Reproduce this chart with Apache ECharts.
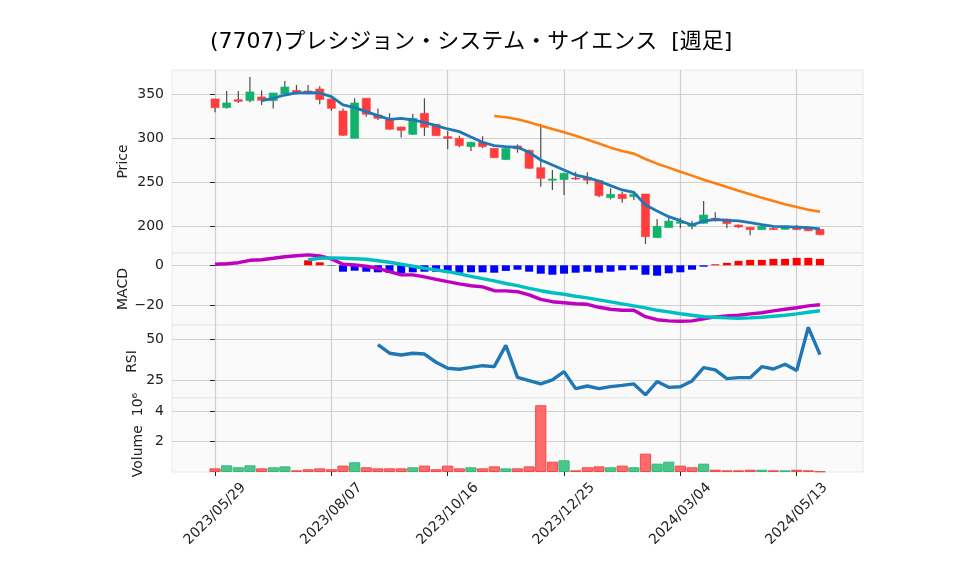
<!DOCTYPE html>
<html>
<head>
<meta charset="utf-8">
<script src="https://cdn.jsdelivr.net/npm/echarts@6/dist/echarts.min.js"></script>
<style>
  html, body { margin: 0; padding: 0; background: #ffffff; }
  #chart { width: 958px; height: 575px; }
</style>
</head>
<body>
<div id="chart"></div>
<script>
// weekly bars, index 0 = 2023/05/29
const dateTickIdx = [0, 10, 20, 30, 40, 50]
const dateLabels = ['2023/05/29', '2023/08/07', '2023/10/16', '2023/12/25', '2024/03/04', '2024/05/13']

const opens = [344.7, 334.8, 343.9, 342.8, 347.0, 342.8, 350.4, 354.5, 353.8, 356.0,
  344.7, 331.0, 300.0, 345.5, 326.5, 320.8, 312.9, 304.5, 328.4, 315.9,
  301.9, 300.0, 290.5, 295.5, 288.6, 275.8, 291.3, 286.4, 266.6, 252.3,
  253.0, 254.9, 255.3, 251.9, 232.6, 236.4, 233.7, 236.7, 187.1, 198.5,
  203.4, 200.0, 203.4, 209.1, 208.3, 201.5, 198.9, 196.2, 197.7, 196.6,
  198.9, 198.1, 196.6]
const closes = [334.8, 340.2, 342.0, 352.7, 343.2, 351.5, 358.3, 351.9, 351.5, 344.0,
  334.0, 303.4, 340.2, 327.3, 322.7, 310.2, 309.0, 322.7, 312.5, 303.0,
  300.0, 291.7, 295.5, 290.5, 278.0, 288.6, 288.0, 265.9, 254.5, 253.8,
  260.2, 253.8, 252.3, 234.8, 236.4, 231.4, 236.4, 188.3, 200.0, 206.0,
  205.3, 203.4, 212.9, 206.1, 203.0, 199.2, 196.2, 200.0, 196.2, 198.9,
  196.2, 195.0, 190.5]
const lows = [329.5, 334.0, 340.2, 341.0, 337.9, 334.0, 350.0, 350.0, 350.0, 338.6,
  331.0, 303.0, 300.0, 324.6, 320.8, 310.0, 300.8, 303.8, 302.7, 302.5,
  287.5, 289.8, 285.6, 289.0, 277.5, 275.5, 283.7, 265.5, 245.0, 241.3,
  235.6, 252.7, 247.7, 233.0, 230.7, 226.9, 229.9, 180.0, 187.0, 198.5,
  197.7, 196.7, 203.0, 205.5, 197.7, 198.0, 189.8, 196.0, 196.0, 196.5,
  196.0, 194.8, 189.8]
const highs = [345.0, 353.8, 353.8, 369.7, 354.5, 351.5, 365.0, 360.6, 360.6, 359.0,
  345.0, 334.0, 345.5, 345.5, 334.0, 328.4, 313.0, 328.0, 345.5, 316.0,
  308.3, 303.0, 296.0, 302.3, 289.0, 289.0, 293.2, 287.0, 316.5, 264.0,
  261.0, 262.0, 261.4, 252.5, 243.2, 239.4, 240.2, 237.0, 208.3, 212.1,
  209.8, 206.4, 228.8, 215.9, 208.5, 202.0, 199.0, 202.3, 200.0, 199.5,
  201.5, 198.5, 197.0]
const volumes = [240000, 440000, 310000, 440000, 240000, 310000, 370000, 110000, 180000, 240000,
  180000, 420000, 640000, 310000, 240000, 240000, 240000, 310000, 420000, 180000,
  420000, 240000, 310000, 240000, 370000, 240000, 240000, 370000, 4400000, 680000,
  770000, 110000, 310000, 370000, 310000, 420000, 310000, 1210000, 550000, 680000,
  420000, 310000, 550000, 150000, 110000, 110000, 150000, 150000, 110000, 110000,
  150000, 110000, 40000]

// moving averages (first value at bar 4 / bar 24)
const ma5Start = 4
const ma5 = [342.8, 345.5, 349.2, 351.5, 351.9, 351.5, 347.3, 337.9, 334.8, 330.3,
  325.8, 321.6, 322.7, 320.8, 318.2, 314.4, 310.6, 307.6, 301.5, 295.5,
  291.7, 290.5, 289.8, 284.1, 275.4, 269.7, 264.0, 258.3, 255.3, 251.5,
  246.2, 241.3, 238.6, 224.2, 217.4, 211.0, 206.4, 201.5, 206.0, 208.0,
  206.8, 206.1, 204.2, 201.9, 200.0, 199.6, 199.2, 198.5, 197.0]
const ma25Start = 24
const ma25 = [325.4, 323.9, 321.6, 318.2, 314.4, 310.6, 306.8, 303.0, 298.5, 294.0,
  289.4, 285.6, 282.6, 276.5, 271.2, 266.7, 262.1, 257.6, 253.0, 248.9,
  244.7, 240.5, 236.4, 232.6, 228.8, 225.0, 222.0, 218.9, 216.7]

const macdLine = [0.5, 0.8, 1.3, 2.5, 2.8, 3.5, 4.3, 4.8, 5.2, 4.7,
  3.2, 0.5, 0.2, -0.5, -1.5, -3.2, -4.8, -4.8, -5.8, -7.0,
  -8.2, -9.3, -10.2, -10.8, -12.7, -12.8, -13.2, -14.8, -17.0, -18.2,
  -18.7, -19.2, -19.5, -21.0, -22.0, -22.5, -22.5, -25.7, -27.2, -27.8,
  -28.0, -27.8, -26.8, -25.8, -25.3, -25.0, -24.3, -23.7, -22.8, -22.0,
  -21.2, -20.3, -19.7]
const signalStart = 8
const signalLine = [2.8, 3.5, 3.7, 3.5, 3.3, 3.0, 2.3, 1.5, 0.5, -0.5,
  -1.5, -2.3, -3.2, -4.3, -5.5, -6.7, -7.8, -9.1, -10.2, -11.5,
  -12.7, -13.7, -14.5, -15.5, -16.3, -17.3, -18.3, -19.3, -20.3, -21.3,
  -22.5, -23.3, -24.2, -25.0, -25.7, -26.0, -26.3, -26.5, -26.3, -26.0,
  -25.5, -25.0, -24.3, -23.5, -22.7]
const histValues = [2.5, 1.5, -0.2, -3.2, -2.7, -3.2, -3.5, -3.8, -4.0, -3.5,
  -3.2, -3.2, -3.5, -3.7, -3.5, -3.5, -3.7, -2.8, -2.2, -3.2,
  -4.2, -4.7, -4.2, -3.7, -3.2, -3.7, -3.2, -2.5, -2.2, -4.7,
  -5.2, -4.0, -3.5, -2.2, -0.7, 0.5, 1.2, 2.2, 2.7, 2.7,
  3.2, 3.2, 3.7, 3.7, 3.2]

const rsiStart = 14
const rsiValues = [46.7, 41.5, 40.4, 41.5, 41.0, 36.0, 32.3, 31.7, 32.9, 33.9,
  33.3, 46.3, 26.8, 24.8, 22.8, 25.2, 30.3, 19.9, 21.5, 19.9,
  21.1, 21.9, 22.8, 16.1, 24.2, 20.7, 21.1, 24.6, 32.7, 31.3,
  26.0, 26.6, 26.6, 33.3, 31.9, 34.8, 30.9, 57.3, 40.6]

const priceTicks = [200, 250, 300, 350]
const macdTicks = [-20, 0]
const rsiTicks = [25, 50]
const volTicks = [2000000, 4000000]

const UP = '#13b26b'
const DOWN = '#ff3d3d'
const VOL_UP = '#4cc78c'
const VOL_DOWN = '#ff6b6b'
const FONT = "'DejaVu Sans', 'Noto Sans CJK JP', sans-serif"
const TEXT = '#222'
const GRID_LINE = '#d0d0d0'

const candleData = opens.map((o, i) => [i, o, closes[i], lows[i], highs[i]])
const volData = volumes.map((v, i) => {
  const up = i > 0 && closes[i] >= closes[i - 1]
  return {
    value: [i, v],
    itemStyle: { color: up ? VOL_UP : VOL_DOWN, borderColor: up ? '#36b77a' : '#f04a4a', borderWidth: 1 }
  }
})
const histData = histValues.map((v, k) => ({
  value: [k + signalStart, v],
  itemStyle: { color: v >= 0 ? '#ff0000' : '#0000ff' }
}))

const grids = [
  { top: 70, height: 183 },
  { top: 253, height: 72 },
  { top: 325, height: 73 },
  { top: 398, height: 74 }
].map(g => ({
  ...g,
  left: 172,
  right: 95,
  show: true,
  backgroundColor: '#fafafa',
  borderColor: '#e8e8e8',
  borderWidth: 1
}))

const xAxes = grids.map((g, idx) => {
  const bottom = idx === grids.length - 1
  return {
    type: 'value',
    gridIndex: idx,
    min: -3.7,
    max: 55.7,
    axisLine: { show: false },
    axisTick: {
      show: bottom,
      customValues: dateTickIdx,
      length: 4,
      lineStyle: { color: TEXT }
    },
    axisLabel: {
      show: bottom,
      customValues: dateTickIdx,
      formatter: v => dateLabels[dateTickIdx.indexOf(v)],
      rotate: 45,
      align: 'center',
      verticalAlign: 'middle',
      margin: 42,
      fontSize: 14,
      color: TEXT,
      fontFamily: FONT
    },
    splitLine: { show: true, lineStyle: { color: GRID_LINE, width: 1.2 } }
  }
})

const makeY = (idx, name, min, max, ticks, nameGap, fmt) => ({
  type: 'value',
  gridIndex: idx,
  min: min,
  max: max,
  name: name,
  nameLocation: 'middle',
  nameGap: nameGap,
  nameMoveOverlap: false,
  nameTextStyle: { fontSize: 14, color: TEXT, fontFamily: FONT },
  axisLine: { show: false },
  axisTick: { show: true, customValues: ticks, length: 5, lineStyle: { color: TEXT } },
  axisLabel: {
    customValues: ticks,
    margin: 8,
    fontSize: 14,
    color: TEXT,
    fontFamily: FONT,
    formatter: fmt || (v => String(v))
  },
  splitLine: { show: true, lineStyle: { color: GRID_LINE, width: 1.2 } }
})

const yAxes = [
  makeY(0, 'Price', 169.7, 377.6, priceTicks, 42),
  makeY(1, 'MACD', -29.85, 6.15, macdTicks, 42, v => (v < 0 ? '\u2212' + Math.abs(v) : String(v))),
  makeY(2, 'RSI', 14.2, 58.7, rsiTicks, 33),
  makeY(3, 'Volume  10\u2076', 0, 4880000, volTicks, 27, v => String(v / 1000000))
]

const renderCandle = (params, api) => {
  const i = api.value(0)
  const o = api.value(1)
  const c = api.value(2)
  const pO = api.coord([i, o])
  const pC = api.coord([i, c])
  const pL = api.coord([i, api.value(3)])
  const pH = api.coord([i, api.value(4)])
  const w = api.size([1, 0])[0] * 0.7
  const up = c >= o
  const top = Math.min(pO[1], pC[1])
  const h = Math.max(Math.abs(pO[1] - pC[1]), 1)
  return {
    type: 'group',
    children: [
      {
        type: 'line',
        shape: { x1: pH[0], y1: pH[1], x2: pL[0], y2: pL[1] },
        style: { stroke: '#4d4d4d', lineWidth: 1.2 }
      },
      {
        type: 'rect',
        shape: { x: pO[0] - w / 2, y: top, width: w, height: h },
        style: { fill: up ? UP : DOWN, stroke: up ? 'rgba(19,178,107,0.55)' : 'rgba(255,61,61,0.55)', lineWidth: 1 }
      }
    ]
  }
}

const lineSeries = (data, start, color, width, xi) => ({
  type: 'line',
  xAxisIndex: xi,
  yAxisIndex: xi,
  data: data.map((v, k) => [k + start, v]),
  showSymbol: false,
  symbol: 'none',
  lineStyle: { color: color, width: width },
  z: 5
})

const chart = echarts.init(document.getElementById('chart'))
chart.setOption({
  animation: false,
  backgroundColor: '#ffffff',
  title: {
    text: '(7707)プレシジョン・システム・サイエンス  [週足]',
    left: 210,
    top: 31,
    padding: 0,
    textStyle: { fontSize: 22, fontWeight: 'normal', color: '#000', fontFamily: FONT }
  },
  grid: grids,
  xAxis: xAxes,
  yAxis: yAxes,
  series: [
    {
      type: 'custom',
      xAxisIndex: 0,
      yAxisIndex: 0,
      renderItem: renderCandle,
      encode: { x: 0, y: [1, 2, 3, 4] },
      data: candleData,
      clip: true,
      z: 3
    },
    lineSeries(ma5, ma5Start, '#1f77b4', 2.8, 0),
    lineSeries(ma25, ma25Start, '#ff7f0e', 2.6, 0),
    {
      type: 'bar',
      xAxisIndex: 1,
      yAxisIndex: 1,
      data: histData,
      barWidth: 8,
      z: 3
    },
    lineSeries(macdLine, 0, '#bf00bf', 3.4, 1),
    lineSeries(signalLine, signalStart, '#00bfbf', 3.4, 1),
    lineSeries(rsiValues, rsiStart, '#1f77b4', 3.4, 2),
    {
      type: 'bar',
      xAxisIndex: 3,
      yAxisIndex: 3,
      data: volData,
      barWidth: 11.2,
      z: 3
    }
  ]
})
</script>
</body>
</html>
